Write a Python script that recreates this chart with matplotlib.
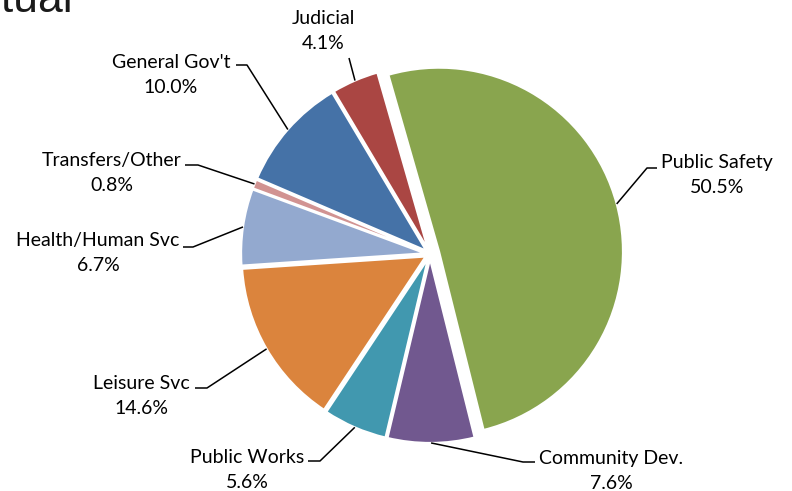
import numpy as np
import matplotlib.pyplot as plt

# budget shares, clockwise from the top
categories = ["Public Safety", "Community Dev.", "Public Works", "Leisure Svc",
              "Health/Human Svc", "Transfers/Other", "General Gov't", "Judicial"]
shares = [50.5, 7.6, 5.6, 14.6, 6.7, 0.8, 10.0, 4.1]
colors = ["#89A54E", "#71588F", "#4198AF", "#DB843D",
          "#93A9CF", "#D19392", "#4572A7", "#AA4643"]

W, H = 792, 491
cx, cy, S = 430, 254, 188.0   # pie centre in px, px per unit


def px(x, y):
    return ((x - cx) / S, (cy - y) / S)


fig = plt.figure(figsize=(W / 100, H / 100), dpi=100)
ax = fig.add_axes([0, 0, 1, 1])

R = 0.978
explode = [0.05] + [0.027] * 7
wedges, _ = ax.pie(shares, colors=colors, startangle=106, counterclock=False,
                   radius=R, explode=explode,
                   wedgeprops=dict(edgecolor="white", linewidth=1.5))

ax.set_xlim(px(0, 0)[0], px(W, 0)[0])
ax.set_ylim(px(0, H)[1], px(0, 0)[1])
ax.axis("off")

# label layout: text centre, elbow, end of short horizontal stub (px)
lab = {
    "Public Safety":    ((717, 175), (647, 168), (657, 168)),
    "Community Dev.":   ((611, 471), (523, 462), (535, 462)),
    "Public Works":     ((247, 470), (320, 461), (308, 461)),
    "Leisure Svc":      ((141, 396), (207, 388), (195, 388)),
    "Health/Human Svc": ((98, 253), (193, 247), (183, 247)),
    "Transfers/Other":  ((112, 173), (198, 165), (185, 165)),
    "General Gov't":    ((171, 75), (247, 65), (236, 65)),
    "Judicial":         ((323, 31), (349, 58), (349, 58)),
}

for w, name, val, ex in zip(wedges, categories, shares, explode):
    mid = np.deg2rad((w.theta1 + w.theta2) / 2)
    ax_, ay_ = w.center[0] + w.r * np.cos(mid), w.center[1] + w.r * np.sin(mid)
    (tx, ty), elb, end = lab[name]
    ex_, ey_ = px(*elb)
    nx, ny = px(*end)
    ax.plot([ax_, ex_, nx], [ay_, ey_, ny], color="black", lw=1.1,
            solid_capstyle="butt")
    x, y = px(tx, ty)
    ax.text(x, y, f"{name}\n{val:.1f}%", ha="center", va="center",
            fontsize=14, family="Lato", linespacing=1.6, color="black")

# cut-off slide title
x, y = px(74, 12)
ax.text(x, y, "Actual", ha="right", va="baseline", fontsize=32,
        family="Liberation Sans", color="#1a1a1a")

fig.savefig("out.png", dpi=100)
